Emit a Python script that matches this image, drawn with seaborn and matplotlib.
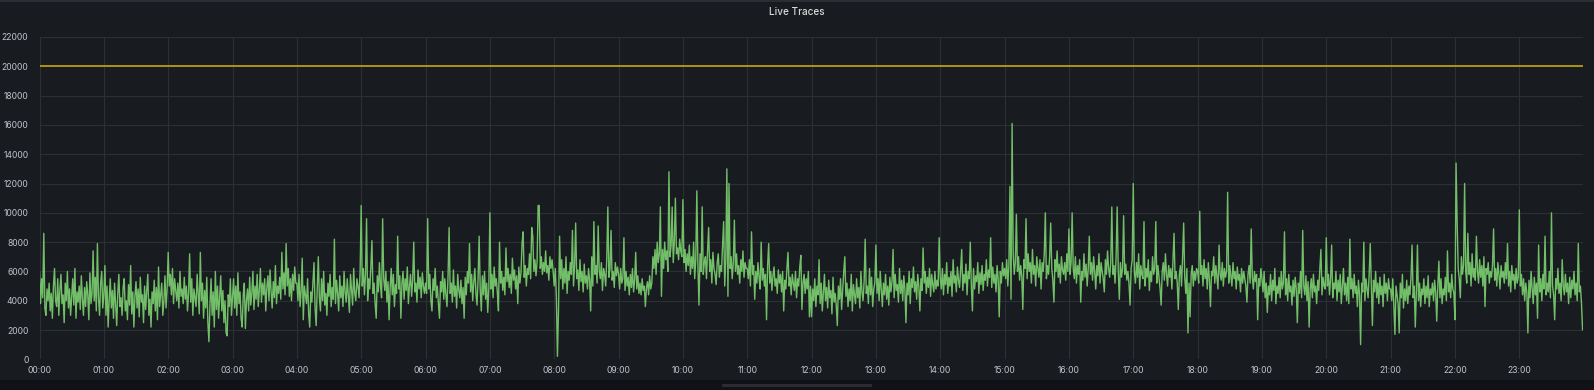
import numpy as np
import pandas as pd
import matplotlib
matplotlib.use("Agg")
import matplotlib.pyplot as plt
from matplotlib.patches import Rectangle
import seaborn as sns

# ---- data (values in hundreds of traces, one list per hour, ~1/min) ----
h00 = [60,38,55,42,86,35,30,48,40,52,33,45,28,50,62,40,36,55,30,47,58,38,44,25,52,40,60,35,48,30,42,55,37,62,28,46,39,50,34,57,41,30,49,36,53,44,27,59,38,45,74,40,56,33,79,42,30,52,60,35]
h01 = [44,64,30,50,22,41,55,35,47,28,52,38,23,45,58,36,42,30,49,55,33,40,27,51,37,64,31,46,22,43,53,35,48,29,56,39,44,25,50,34,47,58,30,41,22,46,38,54,33,49,27,63,36,44,52,30,40,57,35,48]
h02 = [73,50,58,44,62,38,55,47,40,52,35,60,43,48,38,56,41,50,33,45,72,39,55,30,48,42,36,58,44,31,73,40,52,28,47,35,56,25,12,38,55,30,46,22,60,34,50,28,42,57,33,47,25,40,18,16,44,36,55,30]
h03 = [42,55,35,50,30,59,38,46,28,22,44,52,21,40,48,33,56,37,45,60,34,50,41,58,36,47,62,39,52,44,55,33,49,57,40,61,46,35,53,42,64,38,50,45,56,41,73,48,59,44,79,50,62,43,55,40,58,47,63,52]
h04 = [52,40,58,36,47,69,27,50,44,38,55,31,22,46,39,52,66,35,23,48,70,42,33,55,40,60,37,45,30,52,43,58,36,49,41,82,38,54,45,33,57,42,50,36,60,46,39,55,44,32,58,48,37,62,45,40,55,50,42,60]
h05 = [105,50,62,44,58,96,40,55,48,63,81,45,52,38,28,57,46,66,50,42,96,55,47,60,39,53,27,49,62,44,58,36,51,45,84,48,57,28,52,60,41,55,47,63,38,50,58,43,54,80,46,52,39,61,48,56,42,59,50,45]
h06 = [52,45,96,48,58,40,33,55,47,62,42,50,38,28,53,46,60,41,55,44,36,57,90,45,52,39,61,43,50,35,58,47,42,54,38,49,28,56,44,60,52,79,46,58,40,53,62,45,37,55,84,48,33,57,44,60,41,52,32,48]
h07 = [100,48,58,42,63,50,55,45,33,80,52,60,47,56,44,76,53,62,49,58,45,69,54,61,48,57,38,63,52,59,79,87,56,64,50,62,58,72,55,90,84,60,68,57,66,105,105,62,70,58,66,60,74,59,64,54,70,62,68,60]
h08 = [50,62,43,2,33,84,55,68,48,62,52,70,45,60,54,66,58,88,50,64,93,55,61,47,68,53,60,46,65,52,57,48,62,54,33,70,50,94,58,64,52,91,60,55,66,47,62,58,50,68,104,56,62,88,54,60,49,66,57,63]
h09 = [58,48,62,52,55,83,47,60,50,56,44,58,49,62,46,54,73,48,57,45,52,44,55,47,50,36,49,53,44,57,48,52,70,62,75,58,80,66,72,104,43,75,62,80,68,74,60,128,70,78,104,66,80,110,72,76,68,82,74,70]
h10 = [109,66,75,60,72,64,78,58,70,62,80,55,68,115,64,37,72,60,104,58,66,70,55,74,90,60,68,52,73,62,58,51,66,72,56,64,60,78,94,50,68,130,43,120,62,70,55,66,95,60,72,58,64,52,68,60,74,56,66,62]
h11 = [62,55,68,50,87,58,64,41,60,52,66,56,48,80,54,62,50,58,27,64,79,52,60,47,57,63,50,55,45,61,52,58,46,60,33,54,48,62,73,50,56,44,58,52,47,60,42,55,50,63,71,34,52,58,45,55,48,60,29,50]
h12 = [29,48,40,55,36,50,44,68,38,52,33,46,58,40,49,35,54,42,47,31,56,39,45,37,23,50,41,55,34,47,60,70,43,52,36,48,40,58,33,51,44,38,55,42,49,35,60,46,40,53,82,45,50,38,62,44,56,36,48,52]
h13 = [78,45,55,40,60,48,36,52,44,58,41,50,37,56,46,53,75,42,58,47,51,39,62,45,54,40,57,48,25,52,44,60,38,55,49,63,46,53,41,58,50,33,55,47,76,52,60,45,56,49,62,43,58,51,46,60,48,54,50,83]
h14 = [55,48,62,44,58,51,66,45,56,50,60,43,68,52,57,46,63,54,49,61,75,47,58,52,65,44,60,55,80,50,33,62,48,57,53,66,45,59,51,64,47,58,54,68,50,61,56,83,49,63,52,58,46,64,55,29,60,52,66,57]
h15 = [62,55,68,50,64,118,41,161,72,58,66,99,60,70,54,64,57,34,68,62,96,55,72,60,66,52,75,58,64,50,70,62,56,68,48,66,60,72,100,55,64,58,70,93,62,54,39,68,60,74,56,65,52,70,61,58,66,54,72,60]
h16 = [89,58,66,100,62,55,70,52,64,58,68,39,60,54,72,56,65,50,62,84,58,66,54,70,60,48,64,57,72,52,66,60,55,46,68,58,74,62,56,66,104,58,64,52,70,104,60,41,66,56,62,98,58,65,54,60,52,37,62,68]
h17 = [120,60,52,66,56,72,48,64,58,55,94,50,62,56,68,47,60,53,70,58,62,94,52,64,56,48,37,60,66,54,72,58,50,64,56,62,48,68,86,55,60,52,34,58,64,50,70,93,56,45,62,18,52,29,58,64,50,60,54,62]
h18 = [60,52,101,58,64,50,68,55,62,48,66,54,36,60,57,70,52,64,56,48,78,58,54,66,50,62,56,60,114,52,64,57,50,66,55,60,48,63,54,58,46,62,52,60,55,50,39,58,64,52,89,56,48,60,53,58,27,55,50,62]
h19 = [55,46,60,42,52,32,50,44,58,40,54,47,62,38,50,45,56,42,60,48,52,87,44,55,40,58,46,50,37,54,43,56,48,25,52,45,60,42,88,50,44,57,40,53,22,48,55,42,58,46,50,38,54,47,62,75,44,56,50,48]
h20 = [83,50,58,44,55,78,42,52,48,60,40,54,46,58,38,50,62,44,52,40,56,38,82,48,55,42,58,45,50,36,54,44,10,52,46,80,40,55,48,42,58,79,50,23,54,46,60,42,52,38,56,44,50,36,58,45,52,40,55,48]
h21 = [48,40,55,36,17,50,44,38,18,52,42,58,35,48,40,54,38,50,44,56,78,42,50,22,46,78,40,52,36,48,44,55,38,50,42,57,36,48,44,52,40,54,46,26,50,67,42,55,38,48,44,56,40,74,46,52,42,58,48,45]
h22 = [27,134,95,62,55,42,70,58,64,120,60,52,86,58,66,50,72,56,62,54,84,60,52,68,56,64,50,70,36,62,58,66,52,60,56,64,89,54,62,50,66,58,48,64,56,60,52,66,55,79,50,60,46,64,54,58,48,62,52,56]
h23 = [102,50,58,44,55,40,52,46,18,54,42,60,48,38,56,44,52,28,78,46,55,40,58,48,84,44,52,46,60,42,100,50,44,27,55,48,62,45,52,40,68,50,44,58,46,52,38,56,42,54,48,60,44,52,40,79,46,50,38,20]

hourly_lists = [h00,h01,h02,h03,h04,h05,h06,h07,h08,h09,h10,h11,
                h12,h13,h14,h15,h16,h17,h18,h19,h20,h21,h22,h23]
threshold_value = 20000
hour_labels = [f"{h:02d}:00" for h in range(24)]
y_ticks = [0,2000,4000,6000,8000,10000,12000,14000,16000,18000,20000,22000]
title_text = "Live Traces"

# ---- build table ----
xs, ys = [], []
for h, vals in enumerate(hourly_lists):
    n = len(vals)
    for i, v in enumerate(vals):
        xs.append(h + i / n)
        ys.append(v * 100)
df = pd.DataFrame({"hour": xs, "traces": ys})

# ---- style ----
BG = "#181b1f"
GRID = "#2c2f34"
TXT = "#c0c4cc"
sns.set_theme(style="dark")
plt.rcParams["font.family"] = ["Inter", "DejaVu Sans"]

W, H = 1594, 390
fig = plt.figure(figsize=(W/100, H/100), dpi=100, facecolor=BG)
ax = fig.add_axes([39.5/W, 1 - 359.3/H, (1583-39.5)/W, (359.3-37)/H])
ax.set_facecolor(BG)

sns.lineplot(data=df, x="hour", y="traces", ax=ax, color="#73bf69",
             linewidth=1.0, estimator=None, errorbar=None)
ax.axhline(threshold_value, color="#c9a50c", linewidth=1.2, zorder=3)

ax.set_xlim(0, 23.99)
ax.set_ylim(0, 22000)
ax.set_xticks(range(24))
ax.set_xticklabels(hour_labels)
ax.set_yticks(y_ticks)
ax.set_yticklabels([str(t) for t in y_ticks])
ax.grid(True, color=GRID, linewidth=0.8)
ax.set_axisbelow(True)
for s in ax.spines.values():
    s.set_visible(False)
ax.tick_params(axis="both", length=0, colors=TXT, labelsize=6.2)
ax.tick_params(axis="y", pad=8)
ax.tick_params(axis="x", pad=5)
ax.set_xlabel("")
ax.set_ylabel("")

fig.text(797/W, 1 - 12/H, title_text, ha="center", va="center",
         color="#d8d9da", fontsize=7.2, fontweight="medium")

# panel chrome
fig.add_artist(Rectangle((0, 0), 1, 10/H, transform=fig.transFigure,
                         facecolor="#111217", edgecolor="none", zorder=0))
fig.add_artist(Rectangle((0, 1 - 1.5/H), 1, 1.5/H, transform=fig.transFigure,
                         facecolor="#2a2d33", edgecolor="none", zorder=0))
fig.add_artist(Rectangle((722/W, 3.5/H), 150/W, 3/H, transform=fig.transFigure,
                         facecolor="#2a2c31", edgecolor="none", zorder=1))

fig.savefig("out.png", dpi=100, facecolor=BG)
